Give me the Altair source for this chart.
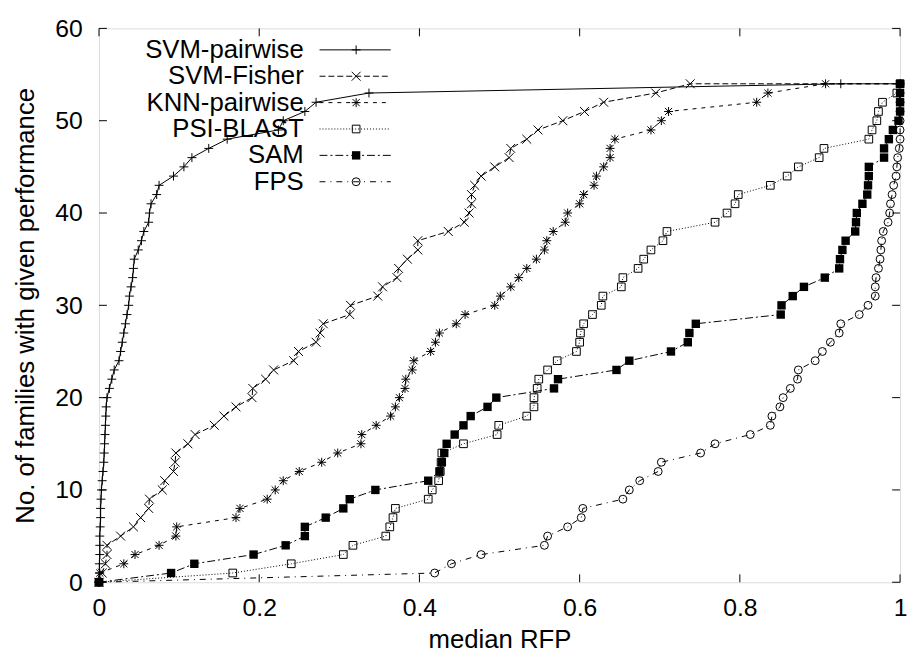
import altair as alt
import pandas as pd

# ---------------- data ----------------
series_names = ["SVM-pairwise", "SVM-Fisher", "KNN-pairwise", "PSI-BLAST", "SAM", "FPS"]
family_counts = list(range(55))  # y = 0 .. 54 families
x_end = 1.0  # every curve continues to median RFP = 1 at 54 families

svm_pairwise = [0, 0.0005, 0.0005, 0.001, 0.001, 0.001, 0.0015, 0.002, 0.002, 0.0025,
                0.003, 0.004, 0.005, 0.006, 0.0065, 0.007, 0.0075, 0.008, 0.0085, 0.009,
                0.010, 0.013, 0.016, 0.019, 0.025, 0.027, 0.029, 0.031, 0.033, 0.035,
                0.037, 0.038, 0.040, 0.042, 0.043, 0.044, 0.049, 0.053, 0.056, 0.062,
                0.063, 0.065, 0.072, 0.075, 0.093, 0.106, 0.116, 0.137, 0.160, 0.224,
                0.230, 0.257, 0.271, 0.337, 0.926]
svm_fisher = [0, 0.004, 0.008, 0.010, 0.010, 0.027, 0.043, 0.052, 0.062, 0.063,
              0.079, 0.082, 0.093, 0.095, 0.096, 0.111, 0.120, 0.144, 0.156, 0.171,
              0.191, 0.192, 0.208, 0.218, 0.243, 0.249, 0.271, 0.276, 0.280, 0.313,
              0.314, 0.348, 0.354, 0.372, 0.374, 0.385, 0.398, 0.398, 0.436, 0.456,
              0.462, 0.465, 0.465, 0.469, 0.477, 0.494, 0.512, 0.514, 0.534, 0.548,
              0.579, 0.606, 0.630, 0.695, 0.738]
knn_pairwise = [0, 0.001, 0.031, 0.045, 0.075, 0.096, 0.097, 0.171, 0.176, 0.210,
                0.220, 0.230, 0.250, 0.278, 0.298, 0.327, 0.328, 0.346, 0.364, 0.370,
                0.375, 0.382, 0.383, 0.391, 0.393, 0.414, 0.420, 0.425, 0.446, 0.457,
                0.494, 0.501, 0.514, 0.524, 0.534, 0.546, 0.556, 0.559, 0.567, 0.582,
                0.585, 0.600, 0.605, 0.618, 0.621, 0.630, 0.638, 0.638, 0.644, 0.689,
                0.702, 0.711, 0.821, 0.835, 0.907]
psi_blast = [0, 0.167, 0.240, 0.305, 0.317, 0.358, 0.363, 0.367, 0.370, 0.411,
             0.416, 0.424, 0.426, 0.427, 0.428, 0.455, 0.497, 0.499, 0.534, 0.543,
             0.543, 0.547, 0.549, 0.560, 0.572, 0.596, 0.600, 0.601, 0.605, 0.616,
             0.627, 0.629, 0.652, 0.654, 0.673, 0.680, 0.689, 0.704, 0.709, 0.769,
             0.784, 0.794, 0.798, 0.838, 0.859, 0.873, 0.899, 0.905, 0.961, 0.965,
             0.971, 0.973, 0.978, 0.996, 1.0]
sam = [0, 0.090, 0.119, 0.193, 0.233, 0.257, 0.257, 0.283, 0.305, 0.313,
       0.345, 0.411, 0.425, 0.428, 0.431, 0.434, 0.444, 0.455, 0.464, 0.485,
       0.496, 0.568, 0.573, 0.646, 0.662, 0.714, 0.735, 0.737, 0.745, 0.851,
       0.852, 0.866, 0.880, 0.906, 0.924, 0.925, 0.928, 0.932, 0.944, 0.945,
       0.946, 0.953, 0.959, 0.960, 0.961, 0.961, 0.980, 0.980, 0.986, 0.991,
       0.998, 1.0, 1.0, 1.0, 1.0]
fps = [0, 0.419, 0.440, 0.477, 0.556, 0.560, 0.585, 0.602, 0.604, 0.654,
       0.662, 0.675, 0.698, 0.702, 0.751, 0.769, 0.813, 0.838, 0.840, 0.850,
       0.854, 0.863, 0.872, 0.873, 0.894, 0.903, 0.913, 0.924, 0.926, 0.949,
       0.960, 0.969, 0.969, 0.970, 0.973, 0.975, 0.976, 0.977, 0.979, 0.985,
       0.987, 0.988, 0.990, 0.992, 0.995, 0.996, 0.997, 0.999, 1.0, 1.0,
       1.0, 1.0, 1.0, 1.0, 1.0]

x_ticks = [0, 0.2, 0.4, 0.6, 0.8, 1]
y_ticks = [0, 10, 20, 30, 40, 50, 60]

series_values = [svm_pairwise, svm_fisher, knn_pairwise, psi_blast, sam, fps]

# ---------------- styles ----------------
FONT = "Liberation Sans"
W, H = 810, 560
styles = [
    dict(shape="M-1,0L1,0M0,-1L0,1", filled=False, size=81, dash=[]),
    dict(shape="M-1,-1L1,1M-1,1L1,-1", filled=False, size=81, dash=[6, 3]),
    dict(shape="M-1,0L1,0M0,-1L0,1M-0.8,-0.8L0.8,0.8M-0.8,0.8L0.8,-0.8", filled=False, size=81, dash=[4, 5]),
    dict(shape="square", filled=False, size=60, dash=[1, 2]),
    dict(shape="square", filled=True, size=72, dash=[8, 3, 2, 3]),
    dict(shape="circle", filled=False, size=64, dash=[6, 5, 1, 5]),
]

xs = alt.Scale(domain=[0, 1], nice=False, zero=False)
ys = alt.Scale(domain=[0, 60], nice=False, zero=False)

X = alt.X("x:Q", scale=xs, axis=alt.Axis(
    values=x_ticks, format="~g", ticks=False, tickSize=0, grid=False, domain=False,
    labelFont=FONT, labelFontSize=25, labelColor="black", labelPadding=14, labelFlush=False,
    title="median RFP", titleFont=FONT, titleFontSize=26, titleFontWeight="normal",
    titleColor="black", titlePadding=6))
Y = alt.Y("y:Q", scale=ys, axis=alt.Axis(
    values=y_ticks, ticks=False, tickSize=0, grid=False, domain=False,
    labelFont=FONT, labelFontSize=25, labelColor="black", labelPadding=17, labelFlush=False,
    title="No. of families with given performance", titleFont=FONT, titleFontSize=26,
    titleFontWeight="normal", titleColor="black", titlePadding=16))

layers = []

# mirrored inward ticks (gnuplot style)
xt = pd.DataFrame({"x": x_ticks})
yt = pd.DataFrame({"y": y_ticks})
layers.append(alt.Chart(xt).mark_rule(color="black", strokeWidth=1).encode(x=X, y=alt.value(H), y2=alt.value(H - 8)))
layers.append(alt.Chart(xt).mark_rule(color="black", strokeWidth=1).encode(x=X, y=alt.value(0), y2=alt.value(8)))
layers.append(alt.Chart(yt).mark_rule(color="black", strokeWidth=1).encode(y=Y, x=alt.value(0), x2=alt.value(8)))
layers.append(alt.Chart(yt).mark_rule(color="black", strokeWidth=1).encode(y=Y, x=alt.value(W), x2=alt.value(W - 8)))

# curves
for name, vals, st in zip(series_names, series_values, styles):
    pts = pd.DataFrame({"x": vals, "y": family_counts, "i": family_counts})
    line_df = pd.concat([pts, pd.DataFrame({"x": [x_end], "y": [family_counts[-1]], "i": [len(vals)]})],
                        ignore_index=True)
    line_kw = dict(color="black", strokeWidth=1)
    if st["dash"]:
        line_kw["strokeDash"] = st["dash"]
    layers.append(alt.Chart(line_df).mark_line(**line_kw).encode(x=X, y=Y, order="i:Q"))
    layers.append(alt.Chart(pts).mark_point(shape=st["shape"], filled=st["filled"], size=st["size"],
                                            color="black", strokeWidth=1, opacity=1).encode(x=X, y=Y))

# key (top-left, inside the plot)
row0, row_step = 21.7, 26.67
for k, (name, st) in enumerate(zip(series_names, styles)):
    ry = row0 + k * row_step
    d = pd.DataFrame({"name": [name]})
    layers.append(alt.Chart(d).mark_text(align="right", baseline="middle", font=FONT, fontSize=26,
                                         color="black").encode(x=alt.value(207), y=alt.value(ry), text="name:N"))
    rule_kw = dict(color="black", strokeWidth=1)
    if st["dash"]:
        rule_kw["strokeDash"] = st["dash"]
    layers.append(alt.Chart(d).mark_rule(**rule_kw).encode(x=alt.value(223), x2=alt.value(295), y=alt.value(ry)))
    layers.append(alt.Chart(d).mark_point(shape=st["shape"], filled=st["filled"], size=st["size"],
                                          color="black", strokeWidth=1, opacity=1).encode(
        x=alt.value(260), y=alt.value(ry)))

chart = alt.layer(*layers).properties(
    width=W, height=H, padding={"left": 5, "top": 5, "right": 0, "bottom": 5}
).configure_view(stroke="black", strokeWidth=1.5).configure(background="white")

chart.save("out.html", embed_options={"renderer": "svg", "actions": False})
